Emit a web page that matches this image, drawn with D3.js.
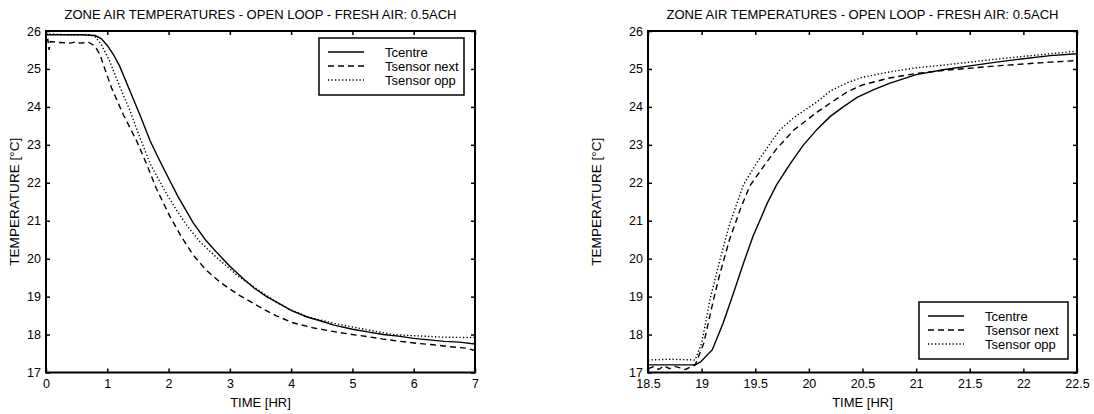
<!DOCTYPE html>
<html>
<head>
<meta charset="utf-8">
<script src="https://cdn.jsdelivr.net/npm/d3@7"></script>
<style>
  body { margin: 0; background: #fff; }
  svg { display: block; font-family: "Liberation Sans", Arial, sans-serif; }
</style>
</head>
<body>
<div id="chart"></div>
<script>
const titleText = "ZONE AIR TEMPERATURES - OPEN LOOP - FRESH AIR: 0.5ACH";
const seriesNames = ["Tcentre", "Tsensor next", "Tsensor opp"];

// left panel: cool-down, [hours, degC]
const leftCentre = [[0,25.9],[0.3,25.9],[0.6,25.9],[0.8,25.88],[0.9,25.8],[1.0,25.62],[1.1,25.38],[1.2,25.08],[1.37,24.42],[1.53,23.8],[1.7,23.1],[1.85,22.6],[2.0,22.12],[2.15,21.65],[2.4,20.95],[2.6,20.5],[2.8,20.14],[3.0,19.8],[3.22,19.47],[3.4,19.22],[3.6,19.0],[3.8,18.82],[4.0,18.64],[4.25,18.47],[4.5,18.35],[4.7,18.25],[5.0,18.14],[5.25,18.07],[5.5,18.0],[5.75,17.96],[6.0,17.9],[6.25,17.86],[6.5,17.82],[6.75,17.8],[7.0,17.75]];
const leftNext = [[0,25.75],[0.03,25.78],[0.05,25.5],[0.07,25.72],[0.2,25.7],[0.4,25.68],[0.5,25.72],[0.55,25.68],[0.7,25.7],[0.8,25.6],[0.88,25.38],[0.99,24.86],[1.07,24.5],[1.26,23.8],[1.48,23.1],[1.64,22.5],[1.8,21.85],[2.02,21.12],[2.2,20.6],[2.4,20.1],[2.6,19.72],[2.84,19.38],[3.0,19.2],[3.17,19.02],[3.3,18.9],[3.49,18.72],[3.75,18.5],[4.03,18.31],[4.35,18.18],[4.69,18.08],[5.0,18.0],[5.23,17.95],[5.5,17.88],[5.78,17.82],[6.05,17.77],[6.32,17.73],[6.6,17.68],[6.86,17.64],[7.0,17.58]];
const leftOpp = [[0,25.92],[0.4,25.9],[0.7,25.9],[0.8,25.85],[0.9,25.65],[1.04,25.2],[1.2,24.55],[1.37,23.9],[1.53,23.2],[1.7,22.5],[1.81,22.17],[1.97,21.7],[2.13,21.28],[2.3,20.87],[2.51,20.45],[2.75,20.08],[2.95,19.8],[3.15,19.52],[3.38,19.27],[3.76,18.85],[3.98,18.66],[4.3,18.45],[4.69,18.3],[5.0,18.2],[5.23,18.13],[5.66,18.0],[6.0,17.97],[6.5,17.93],[7.0,17.92]];

// right panel: warm-up
const rightCentre = [[18.5,17.2],[18.7,17.2],[18.94,17.2],[18.99,17.28],[19.1,17.6],[19.2,18.3],[19.28,18.95],[19.39,19.88],[19.48,20.6],[19.55,21.05],[19.61,21.45],[19.7,21.95],[19.83,22.52],[19.95,23.0],[20.08,23.42],[20.2,23.75],[20.32,24.0],[20.45,24.25],[20.6,24.45],[20.75,24.62],[21.0,24.85],[21.25,24.98],[21.5,25.08],[21.75,25.18],[22.0,25.27],[22.25,25.35],[22.5,25.4]];
const rightNext = [[18.5,17.1],[18.55,17.15],[18.6,17.08],[18.65,17.18],[18.7,17.1],[18.75,17.16],[18.8,17.12],[18.85,17.08],[18.9,17.15],[18.94,17.2],[19.02,17.77],[19.11,18.91],[19.17,19.6],[19.26,20.5],[19.36,21.3],[19.45,21.92],[19.58,22.44],[19.7,22.9],[19.86,23.39],[20.08,23.87],[20.2,24.1],[20.36,24.4],[20.5,24.58],[20.75,24.76],[21.0,24.88],[21.25,24.96],[21.5,25.02],[21.75,25.08],[22.0,25.13],[22.25,25.18],[22.5,25.22]];
const rightOpp = [[18.5,17.33],[18.7,17.35],[18.94,17.33],[19.0,17.77],[19.08,18.95],[19.17,19.96],[19.26,20.9],[19.39,21.95],[19.52,22.55],[19.64,23.04],[19.73,23.39],[19.86,23.72],[20.08,24.14],[20.2,24.42],[20.36,24.64],[20.5,24.78],[20.75,24.92],[21.0,25.03],[21.25,25.1],[21.5,25.18],[21.75,25.26],[22.0,25.33],[22.25,25.4],[22.5,25.47]];

const leftXTicks = [0, 1, 2, 3, 4, 5, 6, 7];
const rightXTicks = [18.5, 19, 19.5, 20, 20.5, 21, 21.5, 22, 22.5];
const yTicks = [17, 18, 19, 20, 21, 22, 23, 24, 25, 26];

const dashes = ["none", "6,4", "1.3,2.2"];

const W = 1094, H = 414;
const svg = d3.select("#chart").append("svg").attr("width", W).attr("height", H);

function drawPanel(p) {
  const x = d3.scaleLinear().domain(p.xDomain).range([p.left, p.right]);
  const y = d3.scaleLinear().domain([17, 26]).range([p.bottom, p.top]);
  const g = svg.append("g");

  g.append("text")
    .attr("x", (p.left + p.right) / 2).attr("y", 19)
    .attr("text-anchor", "middle").attr("font-size", 13)
    .attr("textLength", 392).attr("lengthAdjust", "spacingAndGlyphs")
    .text(titleText);

  const fmt = d => String(d);
  g.append("g").attr("transform", `translate(0,${p.bottom})`)
    .call(d3.axisBottom(x).tickValues(p.xTicks).tickFormat(fmt).tickSizeInner(-4).tickSizeOuter(0).tickPadding(7))
    .call(a => a.select(".domain").remove());
  g.append("g").attr("transform", `translate(0,${p.top})`)
    .call(d3.axisTop(x).tickValues(p.xTicks).tickFormat("").tickSizeInner(-4).tickSizeOuter(0))
    .call(a => a.select(".domain").remove());
  g.append("g").attr("transform", `translate(${p.left},0)`)
    .call(d3.axisLeft(y).tickValues(yTicks).tickFormat(fmt).tickSizeInner(-4).tickSizeOuter(0).tickPadding(5))
    .call(a => a.select(".domain").remove());
  g.append("g").attr("transform", `translate(${p.right},0)`)
    .call(d3.axisRight(y).tickValues(yTicks).tickFormat("").tickSizeInner(-4).tickSizeOuter(0))
    .call(a => a.select(".domain").remove());

  g.selectAll(".tick text").attr("font-size", 12.5).attr("fill", "#000")
    .attr("font-family", "Liberation Sans, Arial, sans-serif");
  g.selectAll(".tick line").attr("stroke", "#000").attr("stroke-width", 1.5);

  const line = d3.line().x(d => x(d[0])).y(d => y(d[1]));
  p.series.forEach((s, i) => {
    g.append("path").datum(s)
      .attr("fill", "none").attr("stroke", "#000")
      .attr("stroke-width", 1.4)
      .attr("stroke-dasharray", dashes[i])
      .attr("d", line);
  });

  g.append("rect")
    .attr("x", p.left).attr("y", p.top)
    .attr("width", p.right - p.left).attr("height", p.bottom - p.top)
    .attr("fill", "none").attr("stroke", "#000").attr("stroke-width", 2);

  g.append("text")
    .attr("x", (p.left + p.right) / 2).attr("y", 407)
    .attr("text-anchor", "middle").attr("font-size", 13)
    .text("TIME [HR]");
  g.append("text")
    .attr("transform", `translate(${p.yLabelX},${(p.top + p.bottom) / 2}) rotate(-90)`)
    .attr("text-anchor", "middle").attr("font-size", 13)
    .attr("textLength", 128).attr("lengthAdjust", "spacingAndGlyphs")
    .text("TEMPERATURE [°C]");

  // legend
  const lg = g.append("g").attr("transform", `translate(${p.legend[0]},${p.legend[1]})`);
  lg.append("rect").attr("width", p.legend[2]).attr("height", 57)
    .attr("fill", "#fff").attr("stroke", "#000").attr("stroke-width", 1.5);
  seriesNames.forEach((name, i) => {
    const yy = 14 + i * 14;
    lg.append("line").attr("x1", 9).attr("x2", 45).attr("y1", yy).attr("y2", yy)
      .attr("stroke", "#000").attr("stroke-width", 1.4).attr("stroke-dasharray", dashes[i]);
    lg.append("text").attr("x", 66).attr("y", yy + 4.5).attr("font-size", 13).text(name);
  });
}

drawPanel({
  left: 46, right: 475, top: 31, bottom: 372.5,
  xDomain: [0, 7], xTicks: leftXTicks, yLabelX: 19,
  series: [leftCentre, leftNext, leftOpp],
  legend: [319, 38, 145]
});
drawPanel({
  left: 648, right: 1077, top: 31, bottom: 372.5,
  xDomain: [18.5, 22.5], xTicks: rightXTicks, yLabelX: 601,
  series: [rightCentre, rightNext, rightOpp],
  legend: [919, 302, 149]
});
</script>
</body>
</html>
